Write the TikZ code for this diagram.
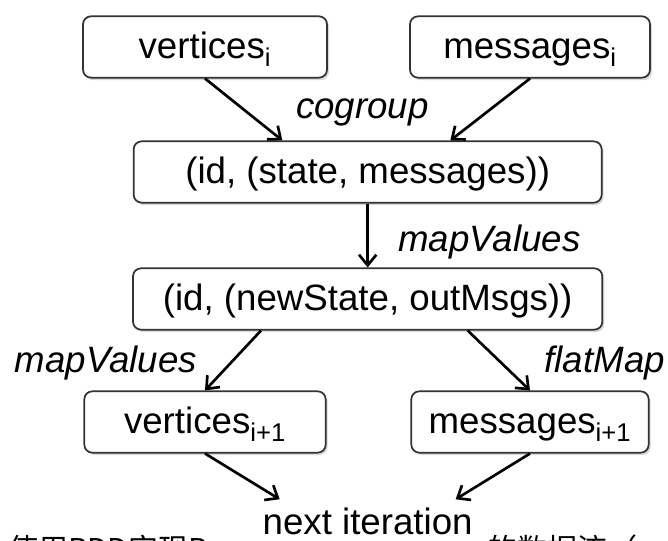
\documentclass[tikz,border=0pt]{standalone}
\usepackage{fontspec}
\setmainfont{Liberation Sans}
\newfontfamily\cjk{Noto Sans CJK SC}
\usetikzlibrary{arrows.meta,shadows}
\newcommand{\diagfont}{\fontsize{27.5pt}{31pt}\selectfont}

\begin{document}
\begin{tikzpicture}[x=0.75pt, y=-0.75pt, node distance=93.75pt, >={Straight Barb[length=8pt,width=13pt]}]
        \tikzstyle{every node}=[font=\diagfont]
        \tikzstyle{stage}=[rectangle, rounded corners=6pt, draw=black!80, line width=1.3pt, fill=white, minimum height=46pt, text height=21pt, text depth=3pt, drop shadow={shadow xshift=1.5pt, shadow yshift=-1.8pt, opacity=0.3}]
        \tikzstyle{op}=[font=\diagfont\itshape, inner sep=2pt]
        \tikzstyle{flow}=[->, line width=2pt]

        \useasboundingbox (0,0) rectangle (668,541);
        \clip (0,0) rectangle (668,541);

        % Nodes
        \node (verts) [stage, minimum width=183pt] at (205,47) {vertices\textsubscript{i}};
        \node (msgs) [stage, minimum width=180pt, right of=verts, node distance=243.75pt] {messages\textsubscript{i}};
        \node (state) [stage, minimum width=351pt, below of=verts, xshift=122pt] {(id, (state, messages))};
        \node (newstate) [stage, minimum width=352pt, below of=state, node distance=95.25pt] {(id, (newState, outMsgs))};
        \node (nextverts) [stage, minimum width=181pt, below of=newstate, node distance=92.25pt, xshift=-122pt] {vertices\textsubscript{i+1}};
        \node (nextmsgs) [stage, minimum width=178pt, right of=nextverts, node distance=243.75pt] {messages\textsubscript{i+1}};
        \node (next) [below of=newstate, node distance=166.5pt, inner sep=6pt] {next iteration};
        \node (cogroup) [op, above of=state, node distance=45pt, xshift=-4pt] {cogroup};

        % caption, cut off by the page edge
        \node (capleft) [font=\cjk\fontsize{22.5pt}{26pt}\selectfont, anchor=base west, inner sep=0pt] at (8,561) {使用RDD实现P};
        \node (capright) [font=\cjk\fontsize{22.5pt}{26pt}\selectfont, anchor=base west, inner sep=0pt] at (487,561) {的数据流（};

        % Edges
        \draw[flow] (verts.south) -- ([xshift=-64pt]state.north);
        \draw[flow] (msgs.south) -- ([xshift=62pt]state.north);
        \draw[flow] (state) -- (newstate) node[op, pos=0.6, right=20pt] {mapValues};
        \draw[flow] ([xshift=-80pt]newstate.south) -- (nextverts.north) node[op, pos=0.55, left=22pt] {mapValues};
        \draw[flow] ([xshift=75pt]newstate.south) -- (nextmsgs.north) node[op, pos=0.55, right=29pt] {flatMap};
        \draw[flow] (nextverts.south) -- ([xshift=-66pt]next.north);
        \draw[flow] (nextmsgs.south) -- ([xshift=66pt]next.north);

    \end{tikzpicture}
\end{document}
